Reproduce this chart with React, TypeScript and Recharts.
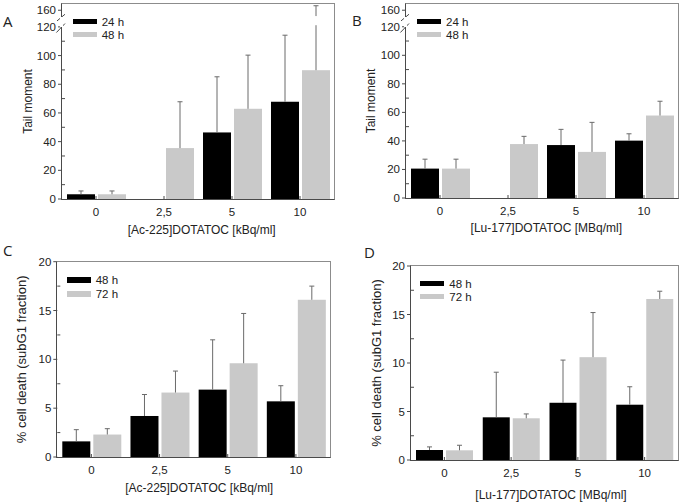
import React from 'react'
import { BarChart, Bar, XAxis, YAxis, Legend } from 'recharts'

const doses = ['0', '2,5', '5', '10']

// A: [Ac-225]DOTATOC, tail moment (mean, SD)
const tailAc24 = [3.3, null, 46.4, 67.8]
const tailAc24Sd = [2.3, null, 38.8, 46.4]
const tailAc48 = [3.3, 35.5, 62.9, 89.8]
const tailAc48Sd = [2.3, 32.3, 37.4, 81]

// B: [Lu-177]DOTATOC, tail moment
const tailLu24 = [20.6, null, 37.1, 40.2]
const tailLu24Sd = [6.6, null, 11.0, 4.8]
const tailLu48 = [20.6, 37.8, 32.3, 57.8]
const tailLu48Sd = [6.6, 5.4, 20.7, 10.0]

// C: [Ac-225]DOTATOC, % cell death
const deathAc48 = [1.6, 4.2, 6.9, 5.7]
const deathAc48Sd = [1.2, 2.2, 5.1, 1.6]
const deathAc72 = [2.3, 6.6, 9.6, 16.1]
const deathAc72Sd = [0.6, 2.2, 5.1, 1.4]

// D: [Lu-177]DOTATOC, % cell death
const deathLu48 = [1.03, 4.4, 5.9, 5.7]
const deathLu48Sd = [0.32, 4.65, 4.4, 1.85]
const deathLu72 = [1.0, 4.3, 10.6, 16.6]
const deathLu72Sd = [0.52, 0.45, 4.6, 0.8]

const tailMajor = [0, 20, 40, 60, 80, 100, 120, 160]
const tailMinor = [10, 30, 50, 70, 90, 110]
const deathMajor = [0, 5, 10, 15, 20]
const deathMinor = [2.5, 7.5, 12.5, 17.5]

// broken axis: everything above 120 is squeezed
const BREAK_AT = 120
const BREAK_K = 0.29
const TAIL_TOP = 175
const BAR_GAP = [124, 146] // gap cut into long error bars
const AXIS_GAP = [120.5, 144] // gap in the y axis line
const brk = (v: number) => (v <= BREAK_AT ? v : BREAK_AT + (v - BREAK_AT) * BREAK_K)
const same = (v: number) => v

const FONT = '"Liberation Sans", Arial, sans-serif'
const TEXT = '#222'
const AXIS = '#4a4a4a'
const FRAME = '#8c8c8c'
const ERR = '#6a6a6a'
const BLACK = '#000000'
const GRAY = '#c9c9c9'
const W = 343

function makeRows(a: any[], aSd: any[], b: any[], bSd: any[], f: (v: number) => number) {
  return doses.map((dose, i) => ({
    dose,
    a: a[i] == null ? null : f(a[i]),
    aTop: a[i] == null ? null : f(a[i] + aSd[i]),
    b: b[i] == null ? null : f(b[i]),
    bTop: b[i] == null ? null : f(b[i] + bSd[i]),
  }))
}

// bar + one-sided error bar, scaled from the bar's own geometry
function BarErr(props: any) {
  const { x, y, width, height, fill, payload, valKey, topKey, gap } = props
  const v = payload[valKey]
  const t = payload[topKey]
  if (v == null || !height) return null
  const ppu = height / v
  const base = y + height
  const yOf = (u: number) => base - u * ppu
  const cx = x + width / 2
  const yt = yOf(t)
  const broken = gap && t > gap[1]
  return (
    <g>
      <rect x={x} y={y} width={width} height={height} fill={fill} />
      {broken ? (
        <>
          <line x1={cx} x2={cx} y1={y} y2={yOf(gap[0])} stroke={ERR} />
          <line x1={cx} x2={cx} y1={yOf(gap[1])} y2={yt} stroke={ERR} />
        </>
      ) : (
        <line x1={cx} x2={cx} y1={y} y2={yt} stroke={ERR} />
      )}
      <line x1={cx - 2.5} x2={cx + 2.5} y1={yt} y2={yt} stroke={ERR} />
    </g>
  )
}

function YTick({ x, y, payload, major, minor, f, breakVal }: any) {
  const v = payload.value
  const isMinor = minor.some((m: number) => Math.abs(f(m) - v) < 1e-6)
  if (isMinor) return <line x1={x} x2={x + 3} y1={y} y2={y} stroke={AXIS} />
  const real = major.find((m: number) => Math.abs(f(m) - v) < 1e-6)
  return (
    <g>
      <line x1={x - 4} x2={x} y1={y} y2={y} stroke={AXIS} />
      <text x={x - 6} y={y} textAnchor="end" dominantBaseline="central" fontSize={11.5} fontFamily={FONT} fill={TEXT}>
        {real}
      </text>
      {breakVal != null && real === breakVal && (
        <g>
          <line x1={x - 5} y1={y + 10.7} x2={x + 3} y2={y + 4} stroke={AXIS} />
          <line x1={x - 5.6} y1={y + 22.3} x2={x + 3} y2={y + 13.3} stroke={AXIS} />
        </g>
      )}
    </g>
  )
}

function XTick({ x, y, payload }: any) {
  return (
    <g>
      <line x1={x} x2={x} y1={y} y2={y - 3} stroke={AXIS} />
      <text x={x} y={y + 13} textAnchor="middle" dominantBaseline="central" fontSize={11.5} fontFamily={FONT} fill={TEXT}>
        {payload.value}
      </text>
    </g>
  )
}

function XTitle({ viewBox, text, dx, dy }: any) {
  const x = viewBox.x + viewBox.width / 2 + dx
  const y = viewBox.y + dy
  return (
    <text x={x} y={y} textAnchor="middle" dominantBaseline="central" fontSize={12} fontFamily={FONT} fill={TEXT}>
      {text}
    </text>
  )
}

function YTitle({ viewBox, text, cx, size }: any) {
  const x = viewBox.x + cx
  const y = viewBox.y + viewBox.height / 2
  return (
    <text x={x} y={y} transform={`rotate(-90, ${x}, ${y})`} textAnchor="middle" dominantBaseline="central" fontSize={size} fontFamily={FONT} fill={TEXT}>
      {text}
    </text>
  )
}

function SwatchLegend({ payload, rowH }: any) {
  return (
    <div style={{ fontFamily: FONT, fontSize: 11.5, color: TEXT }}>
      {(payload || []).map((p: any) => (
        <div key={p.value} style={{ display: 'flex', alignItems: 'center', height: rowH }}>
          <span style={{ display: 'inline-block', width: 24, height: 5.5, background: p.color, marginRight: 5 }} />
          <span>{p.value}</span>
        </div>
      ))}
    </div>
  )
}

const panels: any[] = [
  {
    letter: 'A', lx: 3, ly: 27.3,
    left: 0, top: 0, height: 240,
    margin: { top: 4, right: 9, bottom: 0, left: 0 },
    yWidth: 62, xHeight: 41,
    data: makeRows(tailAc24, tailAc24Sd, tailAc48, tailAc48Sd, brk),
    names: ['24 h', '48 h'],
    f: brk, yMax: TAIL_TOP, major: tailMajor, minor: tailMinor, breakVal: 160,
    gap: BAR_GAP.map(brk), axisGap: AXIS_GAP,
    yTitle: 'Tail moment', yTitleX: 28, yTitleSize: 12,
    xTitle: '[Ac-225]DOTATOC [kBq/ml]', xTitleDx: 3.7, xTitleDy: 31,
    legendLeft: 72.7, legendTop: 15, legendRow: 13,
  },
  {
    letter: 'B', lx: 352, ly: 26,
    left: 343, top: 0, height: 240,
    margin: { top: 4, right: 8, bottom: 0, left: 0 },
    yWidth: 63, xHeight: 42,
    data: makeRows(tailLu24, tailLu24Sd, tailLu48, tailLu48Sd, brk),
    names: ['24 h', '48 h'],
    f: brk, yMax: TAIL_TOP, major: tailMajor, minor: tailMinor, breakVal: 160,
    gap: BAR_GAP.map(brk), axisGap: AXIS_GAP,
    yTitle: 'Tail moment', yTitleX: 28, yTitleSize: 12,
    xTitle: '[Lu-177]DOTATOC [MBq/ml]', xTitleDx: 4.3, xTitleDy: 30.3,
    legendLeft: 74, legendTop: 15, legendRow: 13,
  },
  {
    letter: 'C', lx: 3, ly: 255.7,
    left: 0, top: 240, height: 262,
    margin: { top: 21.7, right: 13, bottom: 0, left: 0 },
    yWidth: 57.3, xHeight: 45,
    data: makeRows(deathAc48, deathAc48Sd, deathAc72, deathAc72Sd, same),
    names: ['48 h', '72 h'],
    f: same, yMax: 20, major: deathMajor, minor: deathMinor, breakVal: null,
    yTitle: '% cell death (subG1 fraction)', yTitleX: 21.7, yTitleSize: 13,
    xTitle: '[Ac-225]DOTATOC [kBq/ml]', xTitleDx: 5.5, xTitleDy: 31.3,
    legendLeft: 66.7, legendTop: 32.8, legendRow: 14,
  },
  {
    letter: 'D', lx: 364, ly: 258.3,
    left: 343, top: 240, height: 262,
    margin: { top: 26, right: 8, bottom: 0, left: 0 },
    yWidth: 68, xHeight: 42,
    data: makeRows(deathLu48, deathLu48Sd, deathLu72, deathLu72Sd, same),
    names: ['48 h', '72 h'],
    f: same, yMax: 20, major: deathMajor, minor: deathMinor, breakVal: null,
    yTitle: '% cell death (subG1 fraction)', yTitleX: 33, yTitleSize: 13,
    xTitle: '[Lu-177]DOTATOC [MBq/ml]', xTitleDx: 6.5, xTitleDy: 34.7,
    legendLeft: 77.3, legendTop: 37.2, legendRow: 13,
  },
]

// plot rectangle of a panel, page coordinates (same margins Recharts gets)
function plotBox(p: any) {
  const l = Math.round(p.left + p.margin.left + p.yWidth)
  const r = Math.round(p.left + W - p.margin.right)
  const t = Math.round(p.top + p.margin.top)
  const b = Math.round(p.top + p.height - p.margin.bottom - p.xHeight)
  return { l, r, t, b }
}

// plot frame as a bordered box: dark axes left/bottom, gray top/right
function FrameBox({ p }: any) {
  const { l, r, t, b } = plotBox(p)
  const top = p.f(p.yMax)
  const yPix = (v: number) => b - (p.f(v) / top) * (b - t)
  return (
    <>
      <div
        style={{
          position: 'absolute',
          left: l - 1,
          top: t - 1,
          width: r - l,
          height: b - t,
          borderTop: `1px solid ${FRAME}`,
          borderRight: `1px solid ${FRAME}`,
          borderLeft: `1px solid ${AXIS}`,
          borderBottom: `1px solid ${AXIS}`,
          pointerEvents: 'none',
        }}
      />
      {p.axisGap && (
        <div
          style={{
            position: 'absolute',
            left: l - 2,
            top: yPix(p.axisGap[1]),
            width: 3,
            height: yPix(p.axisGap[0]) - yPix(p.axisGap[1]),
            background: '#fff',
            pointerEvents: 'none',
          }}
        />
      )}
    </>
  )
}

function Panel({ p }: any) {
  const ticks = [...p.major, ...p.minor].map(p.f)
  const top = p.f(p.yMax)
  return (
    <div style={{ position: 'absolute', left: p.left, top: p.top, width: W, height: p.height }}>
      <BarChart width={W} height={p.height} data={p.data} margin={p.margin} barCategoryGap={5} barGap={3}>
        <Bar
          dataKey="a"
          name={p.names[0]}
          fill={BLACK}
          isAnimationActive={false}
          shape={(s: any) => <BarErr {...s} valKey="a" topKey="aTop" gap={p.gap} />}
        />
        <Bar
          dataKey="b"
          name={p.names[1]}
          fill={GRAY}
          isAnimationActive={false}
          shape={(s: any) => <BarErr {...s} valKey="b" topKey="bTop" gap={p.gap} />}
        />
        <Legend
          layout="horizontal"
          verticalAlign="middle"
          align="center"
          wrapperStyle={{ left: p.legendLeft, top: p.legendTop, width: 80 }}
          content={<SwatchLegend rowH={p.legendRow} />}
        />
        <XAxis
          dataKey="dose"
          height={p.xHeight}
          interval={0}
          tickSize={0}
          tickMargin={0}
          tickLine={false}
          axisLine={false}
          tick={<XTick />}
          label={<XTitle text={p.xTitle} dx={p.xTitleDx} dy={p.xTitleDy} />}
        />
        <YAxis
          type="number"
          domain={[0, top]}
          ticks={ticks}
          interval={0}
          width={p.yWidth}
          tickSize={0}
          tickMargin={0}
          tickLine={false}
          axisLine={false}
          tick={<YTick major={p.major} minor={p.minor} f={p.f} breakVal={p.breakVal} />}
          label={<YTitle text={p.yTitle} cx={p.yTitleX} size={p.yTitleSize} />}
        />
      </BarChart>
    </div>
  )
}

export default function App() {
  return (
    <div style={{ position: 'absolute', left: 0, top: 0, width: 686, height: 502, background: '#fff' }}>
      {panels.map((p) => (
        <Panel key={p.letter} p={p} />
      ))}
      {panels.map((p) => (
        <FrameBox key={'f' + p.letter} p={p} />
      ))}
      <svg width={686} height={502} style={{ position: 'absolute', left: 0, top: 0, pointerEvents: 'none' }}>
        {panels.map((p) => (
          <text key={p.letter} x={p.lx} y={p.ly} fontSize={15} fontFamily='"Open Sans", sans-serif' fill={TEXT}>
            {p.letter}
          </text>
        ))}
      </svg>
    </div>
  )
}
